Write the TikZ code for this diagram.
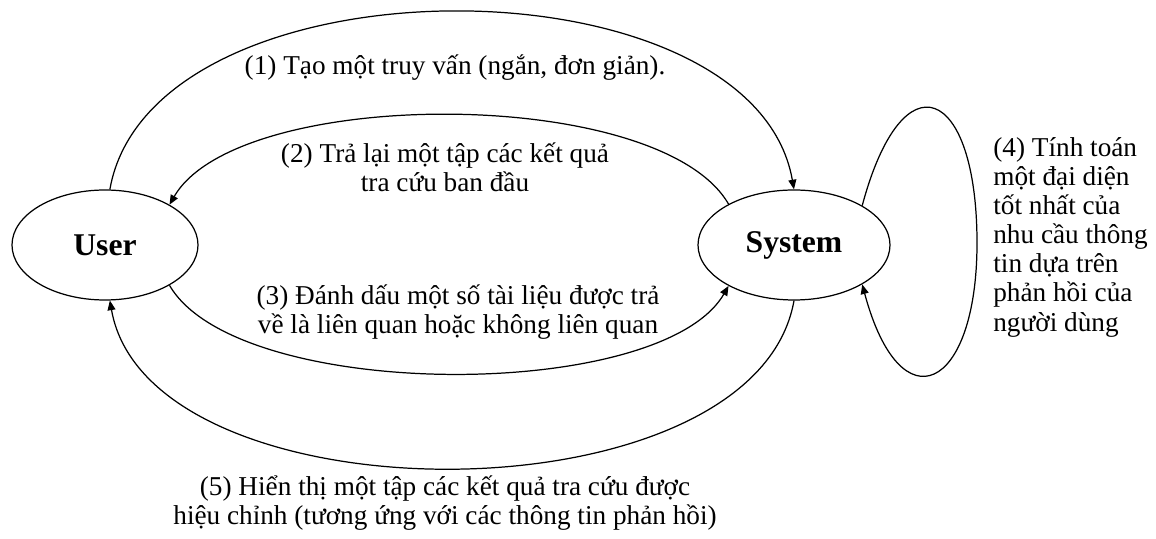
\documentclass[tikz,border=0pt]{standalone}
\usepackage{fontspec}
\setmainfont{Liberation Serif}
\usepackage{tikz}
\usetikzlibrary{arrows.meta,shapes.geometric}

\begin{document}
\begin{tikzpicture}[
    actor/.style={draw, ellipse, line width=0.7pt, inner sep=0pt, font=\fontsize{18}{20}\selectfont\bfseries},
    flow/.style={-{Triangle[length=5.5pt,width=4.5pt]}, line width=0.7pt},
    lab/.style={font=\fontsize{15.5}{16.6}\selectfont, align=center, inner sep=0pt}
]
\useasboundingbox (0,0) rectangle (23.12,-10.78);
\node[actor, minimum width=3.72cm, minimum height=2.2cm] (user) at (2.1,-4.9) {User};
\node[actor, minimum width=3.84cm, minimum height=2.2cm] (system) at (15.88,-4.9) {System};
\coordinate (loopmid) at (19.54,-4.86);
\draw[flow] (user.85) to[out=80,in=100,looseness=0.9] (system.90);
\draw[flow] (system.148) to[out=120,in=60,looseness=0.63] (user.32);
\draw[flow] (user.-32) to[out=-60,in=-120,looseness=0.62] (system.212);
\draw[flow] (system.-90) to[out=-100,in=-80,looseness=0.85] (user.-85);
\draw[flow] (system.30) to[out=75,in=90,distance=3.14cm] (loopmid)
    to[out=-90,in=-75,distance=2.96cm] (system.-30);
\node[lab] (lbl1) at (9.1,-1.36) {(1) Tạo một truy vấn (ngắn, đơn giản).};
\node[lab] (lbl2) at (8.9,-3.34) {(2) Trả lại một tập các kết quả\\tra cứu ban đầu};
\node[lab] (lbl3) at (9.16,-6.24) {(3) Đánh dấu một số tài liệu được trả\\về là liên quan hoặc không liên quan};
\node[lab] (lbl5) at (8.9,-10.06) {(5) Hiển thị một tập các kết quả tra cứu được\\hiệu chỉnh (tương ứng với các thông tin phản hồi)};
\node[lab, align=left, anchor=west] (lbl4) at (19.86,-4.74) {(4) Tính toán\\một đại diện\\tốt nhất của\\nhu cầu thông\\tin dựa trên\\phản hồi của\\người dùng};
\end{tikzpicture}
\end{document}
